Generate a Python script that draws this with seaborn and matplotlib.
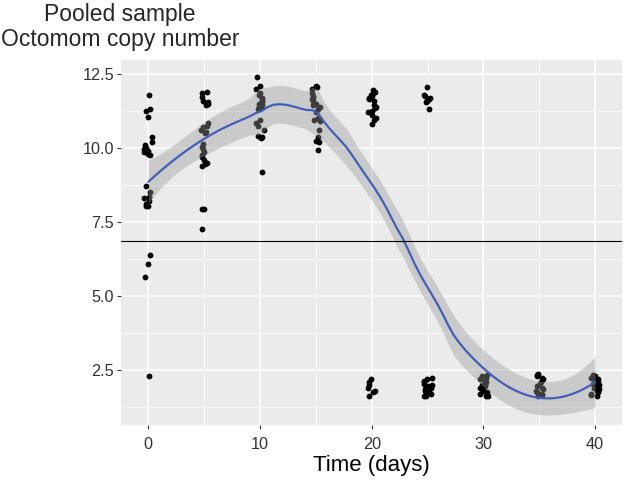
import numpy as np
import pandas as pd
import matplotlib
matplotlib.use("Agg")
import matplotlib.pyplot as plt
import seaborn as sns

# values, per sampling day
day0 = [11.78, 11.3, 11.25, 11.05, 10.38, 10.2, 10.1, 10.0, 9.95, 9.9, 9.85, 9.8, 9.75,
        8.72, 8.5, 8.35, 8.3, 8.2, 8.1, 8.05, 8.03, 6.38, 6.1, 5.65, 2.29]
day5 = [11.9, 11.85, 11.72, 11.6, 11.55, 11.5, 11.45, 10.85, 10.75, 10.7, 10.6, 10.55, 10.5,
        10.15, 10.05, 9.95, 9.85, 9.75, 9.7, 9.6, 9.5, 9.45, 9.4, 7.95, 7.95, 7.27]
day10 = [12.4, 12.1, 12.0, 11.85, 11.8, 11.7, 11.65, 11.6, 11.55, 11.5, 11.45, 11.4, 11.35,
         11.3, 10.95, 10.85, 10.75, 10.6, 10.4, 10.38, 10.35, 9.2]
day15 = [12.1, 12.05, 12.0, 11.85, 11.75, 11.7, 11.65, 11.6, 11.5, 11.45, 11.4, 11.3, 11.2,
         11.0, 10.95, 10.9, 10.6, 10.38, 10.25, 10.2, 9.93]
day20 = [11.95, 11.9, 11.85, 11.8, 11.75, 11.7, 11.65, 11.6, 11.45, 11.4, 11.35, 11.25, 11.2,
         11.1, 11.0, 10.95, 10.8, 2.2, 2.1, 2.0, 1.9, 1.8, 1.75, 1.62]
day25 = [12.06, 11.8, 11.75, 11.7, 11.65, 11.6, 11.55, 11.3,
         2.25, 2.2, 2.15, 2.1, 2.05, 2.0, 1.95, 1.9, 1.85, 1.8, 1.75, 1.7, 1.62, 1.62]
day30 = [2.35, 2.3, 2.25, 2.2, 2.15, 2.1, 2.05, 2.0, 1.95, 1.9, 1.85, 1.8, 1.75, 1.7, 1.65,
         1.62, 1.62]
day35 = [2.38, 2.35, 2.3, 2.25, 2.2, 2.1, 2.0, 1.95, 1.9, 1.85, 1.8, 1.75, 1.7, 1.65, 1.62]
day40 = [2.35, 2.3, 2.3, 2.25, 2.2, 2.15, 2.1, 2.05, 2.0, 1.95, 1.9, 1.85, 1.8, 1.75, 1.7,
         1.65, 1.62]
days = [0, 5, 10, 15, 20, 25, 30, 35, 40]
threshold = 6.86

groups = [day0, day5, day10, day15, day20, day25, day30, day35, day40]
df = pd.DataFrame({
    "day": np.concatenate([[d] * len(g) for d, g in zip(days, groups)]).astype(float),
    "copies": np.concatenate(groups),
})


def loess_rows(x, x0s, span=0.6):
    # local quadratic, tricube weights (like R loess)
    n = len(x)
    q = int(np.floor(span * n))
    rows = []
    for x0 in x0s:
        d = np.abs(x - x0)
        h = np.sort(d)[q - 1]
        w = np.clip(1 - (d / h) ** 3, 0, None) ** 3
        X = np.column_stack([np.ones(n), x - x0, (x - x0) ** 2])
        XtW = (X * w[:, None]).T
        rows.append(np.linalg.solve(XtW @ X, XtW)[0])
    return np.array(rows)


x = df["day"].to_numpy()
y = df["copies"].to_numpy()
L = loess_rows(x, x)
res = y - L @ y
IL = np.eye(len(x)) - L
delta1 = np.trace(IL.T @ IL)
s = np.sqrt(np.sum(res ** 2) / delta1)

xs = np.linspace(x.min(), x.max(), 80)
Lg = loess_rows(x, xs)
fit = Lg @ y
se = s * np.sqrt(np.sum(Lg ** 2, axis=1))
# band width tuned to look like the reference
lo, hi = fit - 1.5 * se, fit + 1.5 * se

sns.set_theme(style="darkgrid", rc={
    "axes.facecolor": "#EBEBEB",
    "grid.color": "white",
    "xtick.bottom": True, "ytick.left": True,
    "xtick.color": "#333333", "ytick.color": "#333333",
    "xtick.major.size": 3, "ytick.major.size": 3,
    "xtick.major.width": 0.8, "ytick.major.width": 0.8,
    "xtick.major.pad": 6, "ytick.major.pad": 2,
})
plt.rcParams["font.family"] = ["Liberation Sans", "DejaVu Sans"]

fig = plt.figure(figsize=(6.25, 4.82), dpi=100)
ax = fig.add_axes([0.1936, 0.1183, 0.8014, 0.7572])

np.random.seed(3)
sns.stripplot(data=df, x="day", y="copies", native_scale=True, orient="x",
              jitter=0.08, color="black", size=4.2, linewidth=0, ax=ax, zorder=2)
ax.fill_between(xs, lo, hi, color="#999999", alpha=0.4, lw=0, zorder=3)
sns.lineplot(x=xs, y=fit, color="#3F60B8", lw=1.6, ax=ax, zorder=4)
ax.axhline(threshold, color="black", lw=0.8, zorder=5)

ax.set_xlim(-2.45, 42.4)
ax.set_ylim(0.65, 12.97)
ax.set_xticks([0, 10, 20, 30, 40])
ax.set_xticks([5, 15, 25, 35], minor=True)
ax.set_yticks([2.5, 5.0, 7.5, 10.0, 12.5])
ax.set_yticklabels(["2.5", "5.0", "7.5", "10.0", "12.5"])
ax.set_yticks([1.25, 3.75, 6.25, 8.75, 11.25], minor=True)
ax.grid(which="major", lw=1.1)
ax.grid(which="minor", lw=0.55, color="white")
ax.tick_params(which="minor", length=0)
ax.tick_params(labelsize=11.7)
for sp in ax.spines.values():
    sp.set_visible(False)

ax.set_xlabel("Time (days)", fontsize=16, color="black", labelpad=2)
ax.set_ylabel("")
fig.text(0.192, 0.993, "Pooled sample\nOctomom copy number", ha="center", va="top",
         fontsize=16.5, linespacing=1.1)

fig.savefig("out.png", dpi=100)
